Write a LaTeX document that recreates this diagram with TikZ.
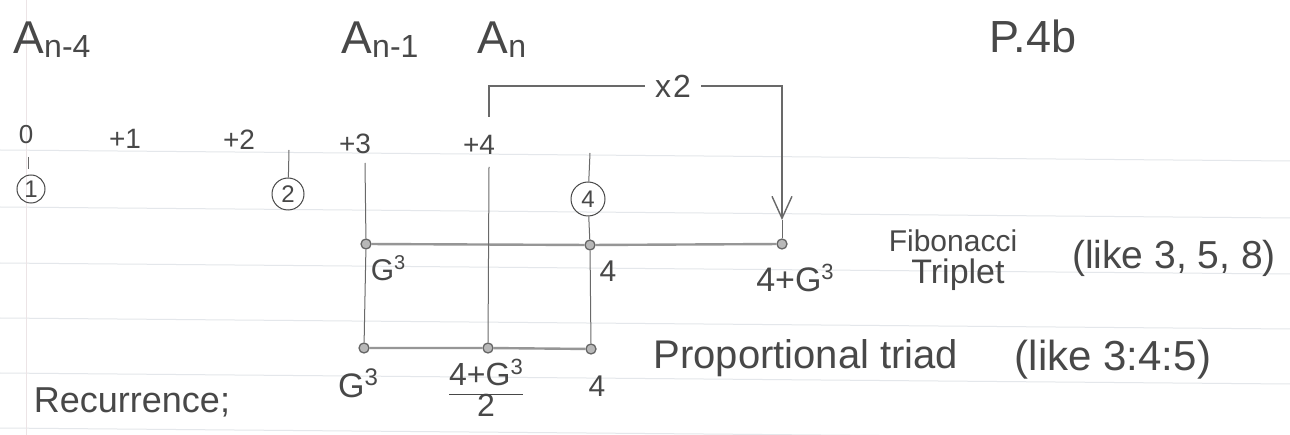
\documentclass[tikz,border=0pt]{standalone}
\usepackage{fontspec}
\setmainfont{Liberation Sans}
\usetikzlibrary{arrows.meta}
\definecolor{pencil}{RGB}{72,72,72}
\definecolor{vgray}{RGB}{105,105,105}
\definecolor{hgray}{RGB}{150,150,150}
\definecolor{paperline}{RGB}{228,231,235}
\definecolor{marginline}{RGB}{236,228,230}
\newcommand{\fs}[1]{\fontsize{#1}{#1}\selectfont}
\newcommand{\Gcube}[3]{G\raisebox{#1}{\fs{#2}3}}
\begin{document}
\begin{tikzpicture}[x=1pt,y=-1pt,
  hand/.style={text=pencil, inner sep=0pt},
  circnum/.style={draw=pencil, circle, line width=1pt, inner sep=0pt, text=pencil, font=\fs{24}},
  dot/.style={circle, draw=black!60, fill=black!28, line width=1.3pt, inner sep=0pt, minimum size=10pt},
  vline/.style={draw=vgray, line width=1pt},
  hline/.style={draw=hgray, line width=2.4pt},
  ruled/.style={draw=paperline, line width=1pt}]
\fill[white] (0,0) rectangle (1290,435);
\useasboundingbox (0,0) rectangle (1290,435);
% ruled paper
\foreach \yy in {150,207,263,318,373,428} \draw[ruled] (0,\yy) -- (1290,\yy+11);
\draw[draw=marginline, line width=1pt] (26,0) -- (26,435);

% headings
\node[hand, font=\fs{46}] (an4) at (52,40) {A\raisebox{-4pt}{\fs{32}n-4}};
\node[hand, font=\fs{46}] (an1) at (380,40) {A\raisebox{-4pt}{\fs{32}n-1}};
\node[hand, font=\fs{46}] (an)  at (502,40) {A\raisebox{-4pt}{\fs{32}n}};
\node[hand, font=\fs{45}] (p4b) at (1033,36) {P.4b};

% offsets row
\node[hand, font=\fs{26}] (l0) at (26,135) {0};
\node[hand, font=\fs{28}] (l1) at (125,139) {+1};
\node[hand, font=\fs{28}] (l2) at (239,140) {+2};
\node[hand, font=\fs{28}] (l3) at (355,144) {+3};
\node[hand, font=\fs{28}] (l4) at (479,145) {+4};

% circled numbers
\node[circnum, minimum size=28pt] (c1) at (31,189) {1};
\node[circnum, minimum size=32pt] (c2) at (288,194) {2};
\node[circnum, minimum size=34pt] (c4) at (588,199) {4};
\coordinate (tk0a) at (28,157);
\coordinate (tk0b) at (28,169);
\coordinate (tk2) at (289,150);
\coordinate (tk4) at (590,153);
\draw[vline] (tk0a) -- (tk0b);
\draw[vline] (tk2) -- (c2);
\draw[vline] (tk4) -- (c4);

% grid dots
\node[dot] (t1) at (366,244) {};
\node[dot] (t2) at (590,245) {};
\node[dot] (t3) at (782,244) {};
\node[dot] (b1) at (364,348) {};
\node[dot] (b2) at (488,348) {};
\node[dot] (b3) at (591,349) {};

\draw[hline] (t1) -- (t2) -- (t3);
\draw[hline] (b1) -- (b2) -- (b3);
\coordinate (v3) at (365,163);
\coordinate (v4) at (489,167);
\draw[vline] (v3) -- (t1) -- (b1);
\draw[vline] (v4) -- (b2);
\draw[vline] (c4) -- (t2) -- (b3);

% x2 bracket
\node[hand, font=\fs{32}, inner xsep=10pt] (x2) at (673,86) {x\kern2pt2};
\coordinate (brL) at (489,117);
\coordinate (tip) at (782,220);
\draw[vline, line width=1.3pt] (brL) |- (x2.west);
\draw[vline, line width=1.3pt, -{Straight Barb[length=22pt,width=20pt,line width=1.4pt]}] (x2.east) -| (tip);
\draw[vline] (tip) -- (t3);

% labels
\node[hand, font=\fs{30}] (g3a) at (388,268) {\Gcube{11pt}{20}{}};
\node[hand, font=\fs{30}] (f4a) at (608,271) {4};
\node[hand, font=\fs{34}] (sum) at (795,278) {4+\Gcube{12pt}{22}{}};
\node[hand, font=\fs{30}] (fib1) at (953,241) {Fibonacci};
\node[hand, font=\fs{34}] (fib2) at (958,275) {Triplet};
\node[hand, font=\fs{39}] (like1) at (1174,258) {(like 3, 5, 8)};

\node[hand, font=\fs{34}] (g3b) at (358,383) {\Gcube{12pt}{24}{}};
\node[hand, font=\fs{32}] (half) at (486,392) {\renewcommand{\arraystretch}{0.85}\begin{tabular}{@{}c@{}}4+\Gcube{11pt}{22}{}\\\hline 2\end{tabular}};
\node[hand, font=\fs{30}] (f4b) at (597,386) {4};
\node[hand, font=\fs{40}] (prop) at (806,358) {Proportional triad};
\node[hand, font=\fs{42}] (like2) at (1113,360) {(like 3:4:5)};
\node[hand, font=\fs{36}] (rec) at (132,402) {Recurrence;};
\end{tikzpicture}
\end{document}
